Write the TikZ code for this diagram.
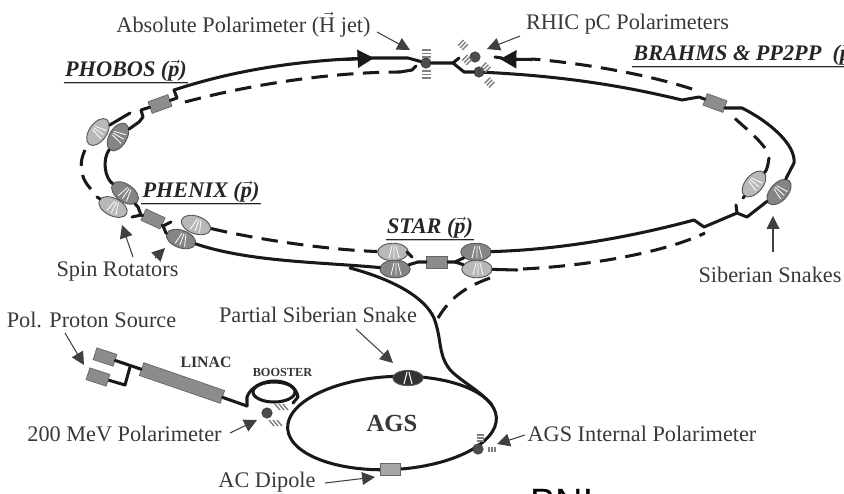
\documentclass[tikz,border=0pt]{standalone}
\usepackage{fontspec}
\setmainfont{Liberation Serif}
\setsansfont{Liberation Sans}
\usetikzlibrary{arrows.meta,shapes.geometric}
\newcommand{\polp}{$\vec{\mbox{\bfseries\itshape p}}$}
\tikzset{
  beam/.style={line width=2.6pt,black!90,line cap=round,line join=round},
  beamdash/.style={beam,line cap=butt,dash pattern=on 14pt off 8pt},
  bigtip/.style={-{Triangle[length=14pt,width=15pt]}},
  pointer/.style={-{Triangle[length=11pt,width=11pt]},line width=0.9pt,black!75},
  hatch/.style={black!50,line width=1.2pt},
  snakelight/.style={ellipse,draw=black!65,line width=0.8pt,fill=black!28,minimum width=26pt,minimum height=15pt,inner sep=0pt},
  snakedark/.style={snakelight,fill=black!48},
  magnet/.style={rectangle,draw=black!60,line width=0.6pt,fill=black!45,minimum width=18pt,minimum height=10.5pt,inner sep=0pt},
  target/.style={circle,draw=black!80,fill=black!70,minimum size=9pt,inner sep=0pt},
  lbl/.style={font=\fontsize{19}{21}\selectfont,text=black!78,inner sep=0pt},
  lblsite/.style={font=\fontsize{19}{21}\selectfont\bfseries\itshape,text=black!85,inner sep=1pt},
  lbltiny/.style={font=\fontsize{13.5}{15}\selectfont\bfseries,text=black!80,inner sep=0pt},
  rule2/.style={double=black!25,double distance=0.5pt,line width=0.9pt,black!85}
}
\begin{document}
\begin{tikzpicture}[x=0.03cm,y=-0.03cm]
\useasboundingbox (0,0) rectangle (844,493);
\draw[beam] (392,423) [rotate around={3:(392,423)}] ellipse (104.5 and 46.5);
\draw[beam] (274,392) ellipse (21 and 10);
\draw[beam] (247,406) -- (247,397) .. controls (250,388) and (262,381) .. (274,381) .. controls (286,381) and (296,386) .. (298,397) -- (293,403);
\foreach \nm/\px/\py/\ang/\tone in {snkPa/98/132/55/snakelight,snkPb/118/137/60/snakedark,snkPc/125/193/-35/snakedark,snkPe/113/207/-26/snakelight,snkPf/196/225/-20/snakelight,snkPd/181/239/-20/snakedark,snkSa/393/252/0/snakelight,snkSb/395/269/0/snakedark,snkSd/476/252/0/snakedark,snkSe/477/269/0/snakelight,snkRa/754/184/50/snakelight,snkRb/779/192/48/snakedark}{
  \node[\tone,rotate=\ang] (\nm) at (\px,\py) {};
  \begin{scope}[shift={(\nm)},rotate=\ang]
    \draw[white,line width=0.7pt] (-4,6) -- (-1,-6) (1,6) -- (1,-6) (6,6) -- (3,-6);
  \end{scope}
}
\node[snakedark,fill=black!80,minimum width=26pt,minimum height=13pt] (snkAgs) at (408,378) {};
\draw[white,line width=0.9pt] (404,384) -- (407,372) (409,372) -- (412,384);
\node[magnet,rotate=20] (boxPhobos) at (160,104) {};
\node[magnet,rotate=-20] (boxBrahms) at (715,103) {};
\node[magnet,rotate=-25] (boxPhenix) at (153,219) {};
\node[magnet] (boxStar) at (437,262) {};
\node[magnet,fill=black!35,minimum width=17pt] (boxDipole) at (390,469) {};
\node[magnet,rotate=-19,minimum width=73pt,minimum height=11.5pt] (boxLinac) at (182,383) {};
\node[magnet,rotate=-18] (boxSrcA) at (105,357) {};
\node[magnet,rotate=-18] (boxSrcB) at (98,377) {};
\node[target] (dotH) at (426,63) {};
\node[target] (dotRa) at (475,57) {};
\node[target] (dotRb) at (479,72) {};
\node[target] (dotLinac) at (267,413) {};
\node[target] (dotAgs) at (478,449) {};
\draw[beam] (boxPhobos) -- (177,98) -- (174,90) .. controls (235,70) and (300,60) .. (372,58) -- (408,58) -- (dotH);
\draw[beam,bigtip] (345,59.5) -- (374,58);
\draw[beam] (dotH) -- (453,63) -- (464,72) -- (dotRb);
\draw[beam] (453,63) -- (459,58);
\draw[beam] (dotRb) .. controls (560,76) and (620,85) .. (682,100) -- (699,97) -- (boxBrahms);
\draw[beam] (boxBrahms) -- (725,108) -- (742,108) .. controls (770,122) and (796,145) .. (794,163) -- (snkRb);
\draw[beam] (snkRb) -- (747,217) -- (737,213) -- (704,227) -- (694,220) .. controls (620,240) and (550,250) .. (snkSd);
\draw[beam] (737,213) -- (736,205);
\draw[beam] (snkSd) -- (455,262) -- (boxStar);
\draw[beam] (455,262) -- (snkSe);
\draw[beam] (boxStar) -- (418,262) -- (snkSb);
\draw[beam] (407,252) -- (412,257);
\draw[beam] (snkSb) .. controls (320,262) and (250,262) .. (snkPd);
\draw[beam] (350,268) .. controls (395,280) and (425,298) .. (434,318) .. controls (442,340) and (438,352) .. (448,367) .. controls (455,378) and (480,390) .. (492,405);
\draw[beam] (boxPhobos) -- (141,110) -- (143,117) -- (139,122) -- (snkPb);
\draw[beam] (snkPb) .. controls (102,160) and (105,178) .. (snkPc);
\draw[beam] (snkPc) -- (138,207) -- (141,215) -- (boxPhenix);
\draw[beam] (132,217) -- (141,215);
\draw[beam] (boxPhenix) -- (163,226) -- (166,233) -- (snkPd);
\draw[beam] (163,226) -- (171,222);
\draw[beamdash] (185,102) .. controls (260,82) and (340,72) .. (400,72);
\draw[beam] (400,72) -- (412,70) -- (416,66);
\draw[beam] (snkPa) -- (130,113);
\draw[beamdash] (85,150) .. controls (78,165) and (80,180) .. (95,193);
\draw[beam] (snkPe) -- (97,197);
\draw[beamdash] (snkPf) .. controls (260,240) and (330,250) .. (snkSa);
\draw[beam] (snkSe) -- (517,270);
\draw[beamdash] (523,269) .. controls (600,265) and (670,250) .. (705,233);
\draw[beamdash] (490,278) .. controls (465,287) and (450,298) .. (438,318);
\draw[beam] (snkRa) -- (743,198);
\draw[beam] (snkRa) .. controls (767,170) and (768,165) .. (769,158);
\draw[beamdash] (765,148) .. controls (755,135) and (745,128) .. (729,113);
\draw[beamdash] (692,89) .. controls (640,72) and (570,62) .. (532,59);
\draw[beam,bigtip] (532,59.5) -- (500,59);
\draw[beam] (502,58) -- (495,57);
\draw[beam] (boxSrcA) -- (boxLinac);
\draw[beam,line cap=butt] (boxSrcB) -- (125,385) -- (130,367);
\draw[beam] (boxLinac) -- (247,406);
\foreach \y in {50,53.5,57,71,74.5,78} \draw[hatch] (422,\y) -- (431,\y);
\foreach \nm in {dotRa,dotRb}{
  \begin{scope}[shift={(\nm)},rotate=-45]
    \foreach \d in {-20,-17,-14,12,15,18} \draw[hatch] (\d,-4) -- (\d,4);
  \end{scope}
}
\foreach \d in {0,4,8}{
  \draw[hatch] (275+\d,404) -- (280+\d,410);
  \draw[hatch] (269+\d,420) -- (274+\d,426);
}
\foreach \y in {435,438,441} \draw[hatch] (477,\y) -- (484,\y);
\foreach \x in {489,492,495} \draw[hatch] (\x,447) -- (\x,452);
\node[lbl] (lblAbs) at (243.5,25) {Absolute Polarimeter ($\vec{\mathrm{H}}$ jet)};
\node[lbl] (lblRhic) at (627.5,24) {RHIC pC Polarimeters};
\node[lbl] (lblSpin) at (117.5,271) {Spin Rotators};
\node[lbl] (lblSib) at (770,275) {Siberian Snakes};
\node[lbl] (lblSrc) at (91.5,320) {Pol. Proton Source};
\node[lbl] (lblPart) at (318,315) {Partial Siberian Snake};
\node[lbl] (lbl200) at (124.5,434) {200 MeV Polarimeter};
\node[lbl] (lblAgsPol) at (642,434) {AGS Internal Polarimeter};
\node[lbl] (lblDip) at (267,482) {AC Dipole};
\node[lbl,font=\fontsize{21}{23}\selectfont\bfseries] (lblAgs) at (392,423) {AGS};
\node[lbltiny] (lblLinac) at (206,362) {LINAC};
\node[lbltiny,font=\fontsize{10.5}{12}\selectfont\bfseries] (lblBoost) at (282.5,372) {BOOSTER};
\node[lblsite] (sitePhobos) at (126,71) {PHOBOS (\polp)};
\node[lblsite] (sitePhenix) at (201,192) {PHENIX (\polp)};
\node[lblsite] (siteStar) at (430,228) {STAR (\polp)};
\node[lblsite,anchor=west] (siteBrahms) at (632,55) {BRAHMS \& PP2PP\ \ (\polp)};
\foreach \nm in {sitePhobos,sitePhenix,siteStar,siteBrahms} \draw[rule2] (\nm.south west) -- (\nm.south east);
\node[anchor=base west,inner sep=0pt,font=\fontsize{32.5}{34}\selectfont\sffamily] (lblBnl) at (530,515) {BNL};
\foreach \t/\tx/\ty/\h/\hx/\hy in {tailAbs/377/32/tipAbs/410/50,tailRhic/520/36/tipRhic/487/49,tailSpinA/133/257/tipSpinA/122/225,tailSpinB/155/258/tipSpinB/165/248,tailSib/773/252/tipSib/773/216,tailSrc/65/333/tipSrc/84/365,tailPart/356/329/tipPart/393/363,tail200/230/433/tip200/257/420,tailDip/325/483/tipDip/375/477,tailAgsPol/525/435/tipAgsPol/497/444}{
  \coordinate (\t) at (\tx,\ty);
  \coordinate (\h) at (\hx,\hy);
  \draw[pointer] (\t) -- (\h);
}
\end{tikzpicture}
\end{document}
